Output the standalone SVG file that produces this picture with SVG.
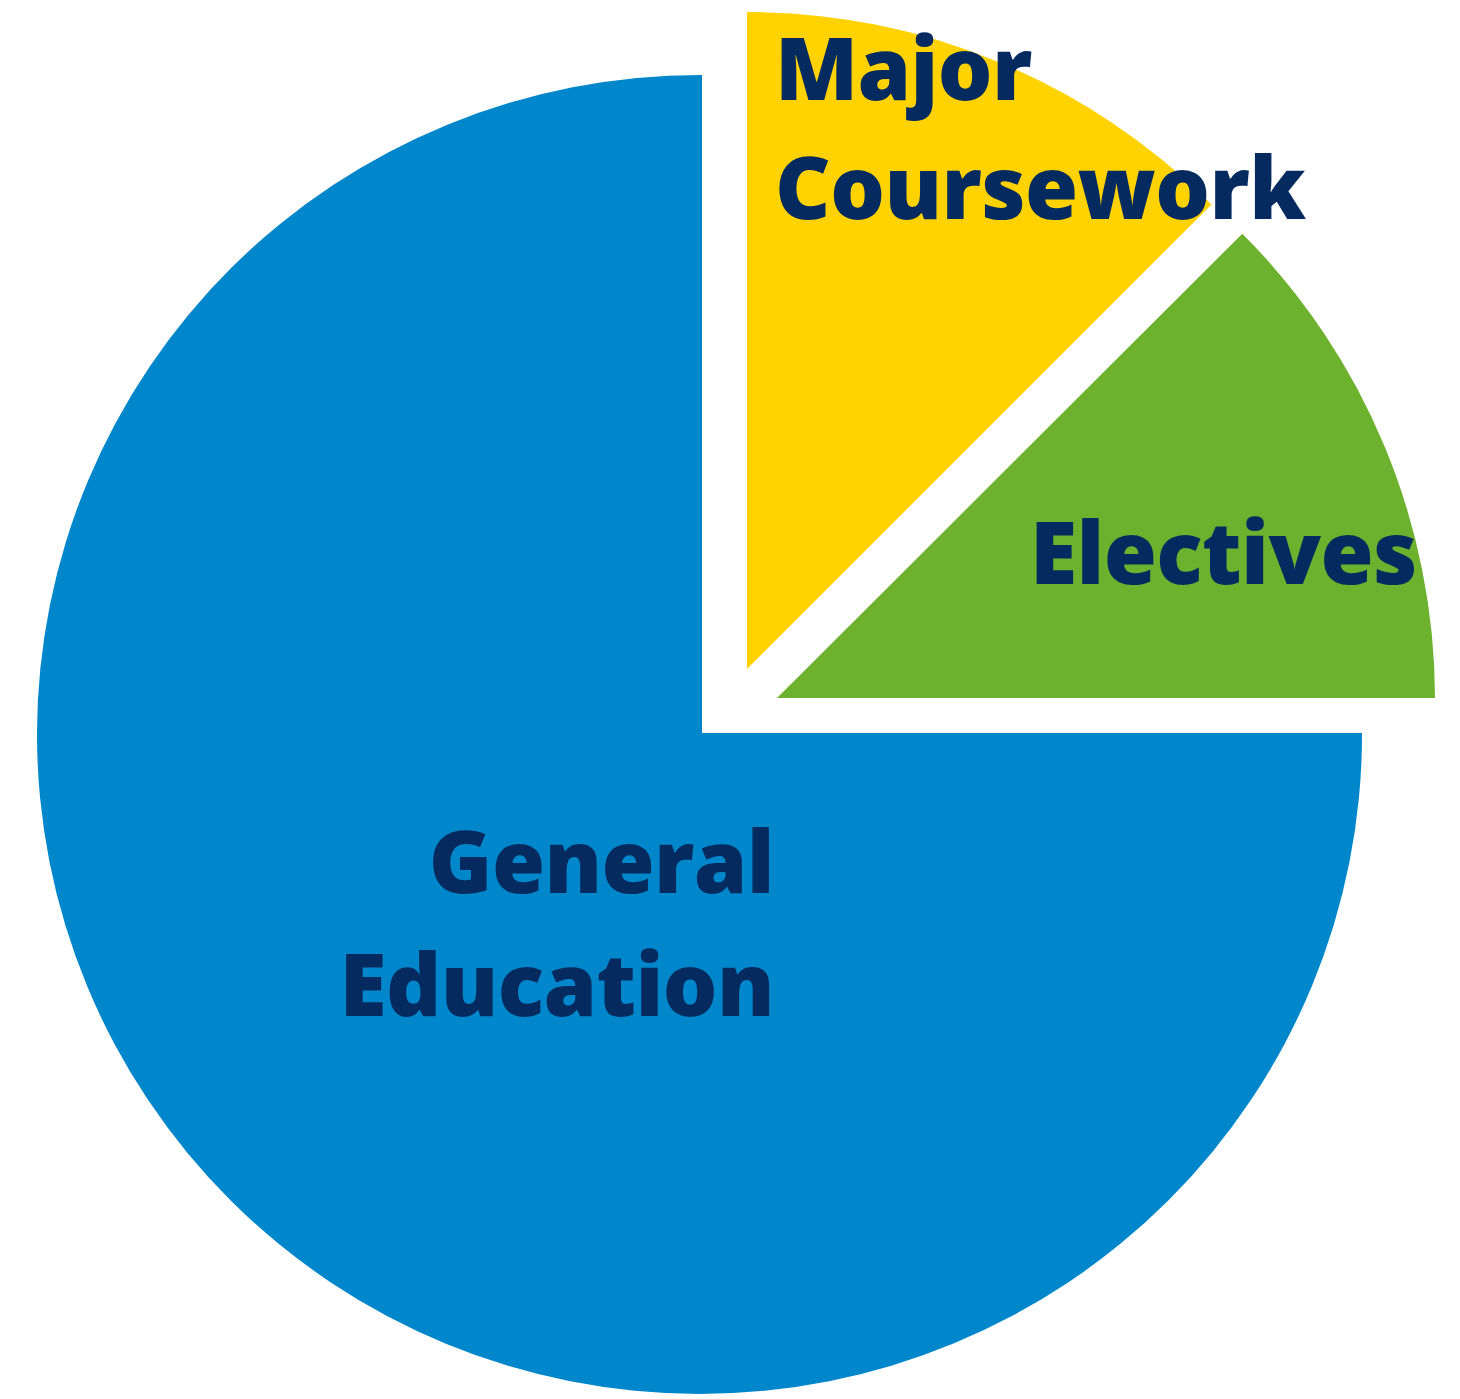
<svg xmlns="http://www.w3.org/2000/svg" width="1460" height="1399" viewBox="0 0 1460 1399">
<style>
.lbl{font-family:"Open Sans","Liberation Sans",sans-serif;font-weight:800;font-size:86px;letter-spacing:-0.6px;fill:#042a5f}
</style>
<rect width="1460" height="1399" fill="#ffffff"/>
<g id="general-education">
<path d="M702,733 L702,75 A662.5,659.5 0 1 0 1362,733 Z" fill="#0087cb"/>
<text class="lbl" x="774" y="893" text-anchor="end">General</text>
<text class="lbl" x="774" y="1016" text-anchor="end">Education</text>
</g>
<g id="major-coursework">
<path d="M747,669 L747,12 A657,657 0 0 1 1211.6,204.4 Z" fill="#ffd200"/>
<text class="lbl" x="775" y="100">Major</text>
<text class="lbl" x="775" y="219">Coursework</text>
</g>
<g id="electives">
<path d="M777,698 L1242.3,233.7 A658,658 0 0 1 1435,698 Z" fill="#6cb22e"/>
<text class="lbl" x="1030" y="584">Electives</text>
</g>
<g id="connectors"/>
</svg>
